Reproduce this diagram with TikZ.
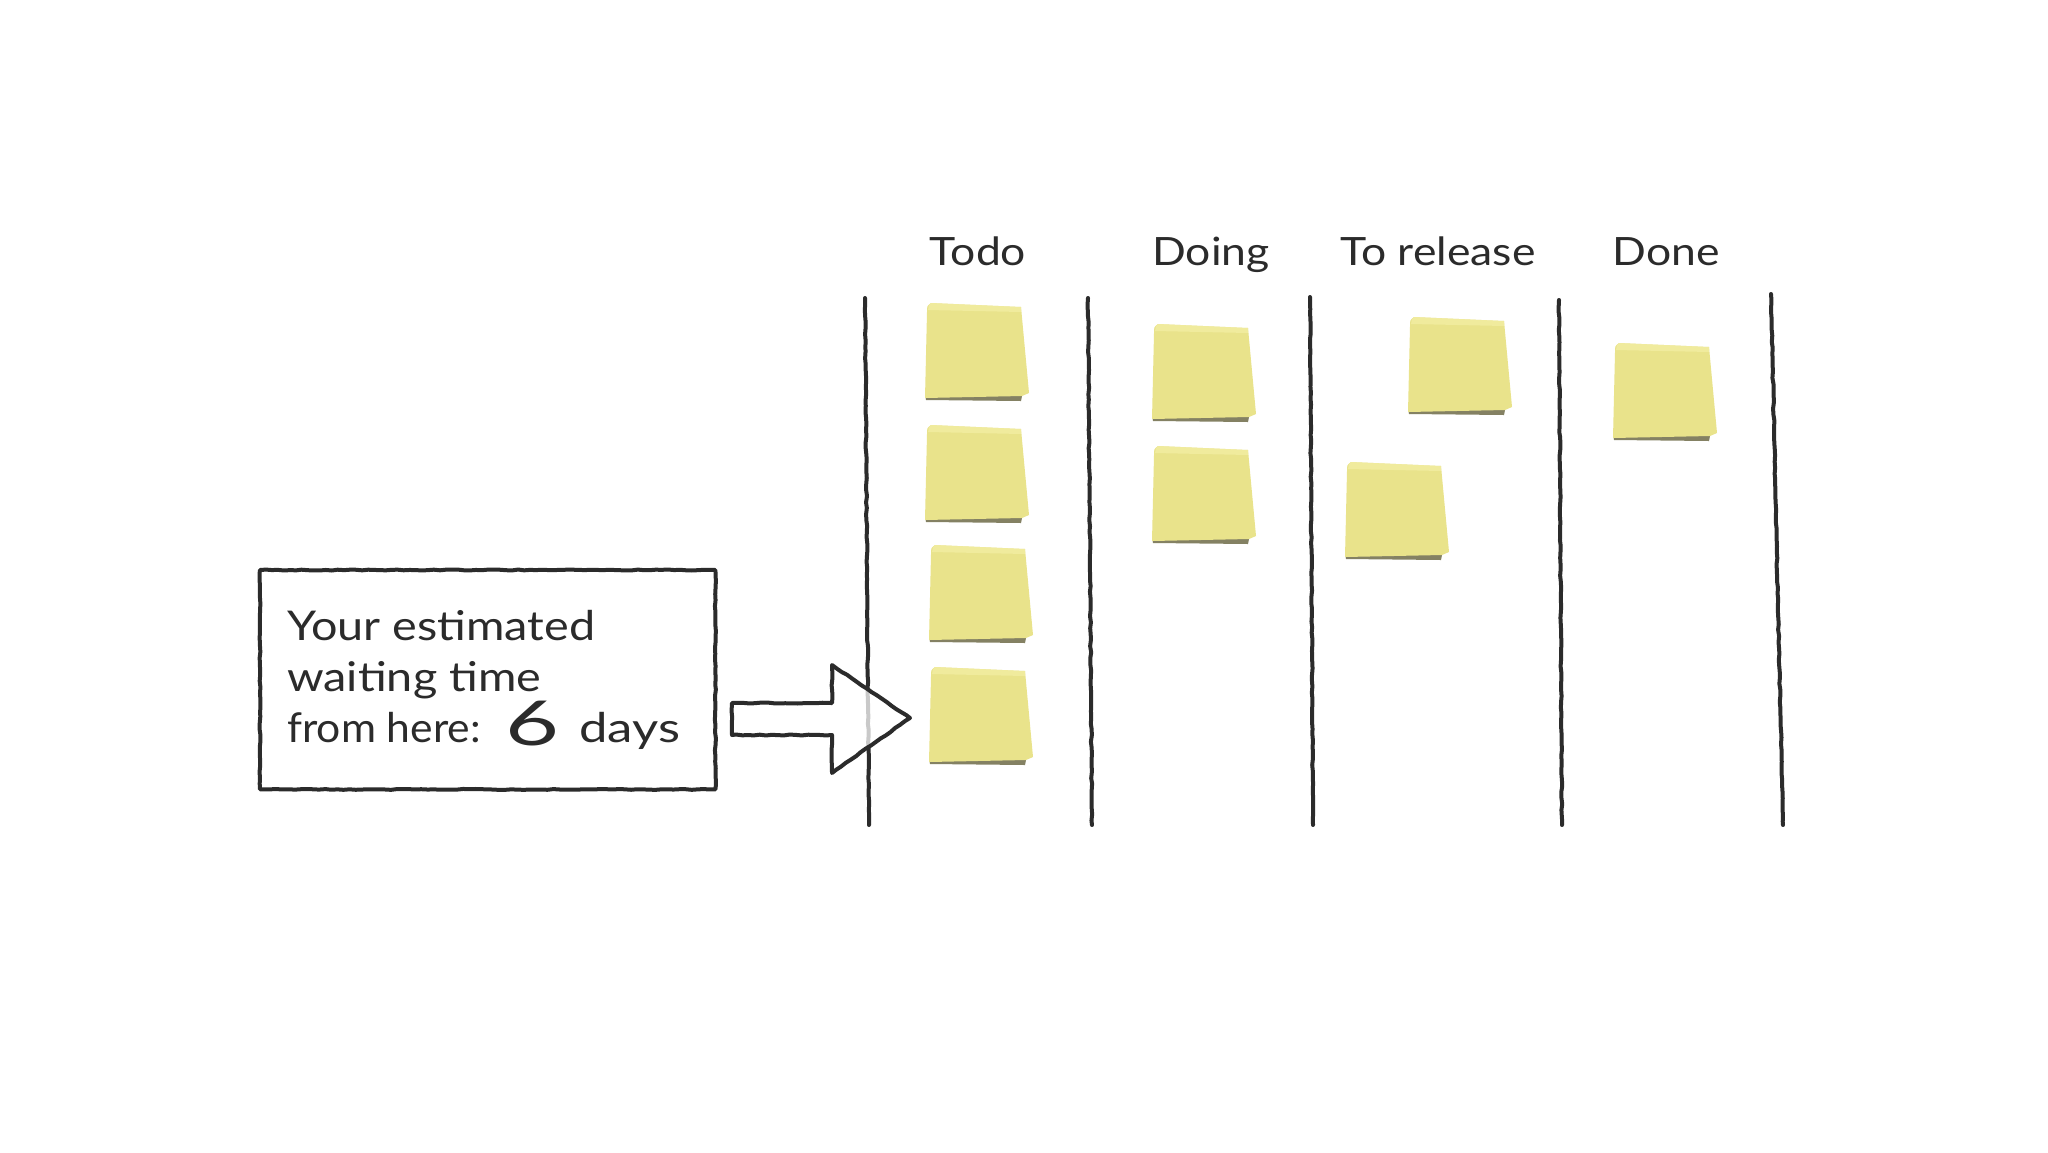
\documentclass[tikz,border=0pt]{standalone}
\usepackage{fontspec}
\setmainfont{Lato}
\newfontfamily\handfont[FakeStretch=1.14]{Lato}
\newfontfamily\handfontb[FakeStretch=1.04]{Lato}
\newfontfamily\handfontc[FakeStretch=1.24]{Lato}
\newfontfamily\digitfont[FakeStretch=1.5]{Lato}
\usetikzlibrary{decorations.pathmorphing,calc}
\definecolor{ink}{HTML}{2B2B2B}
\definecolor{notec}{HTML}{E9E38B}
\definecolor{notelt}{HTML}{F2EDA2}
\definecolor{noteshadow}{HTML}{6F6C48}
\begin{document}
\pgfmathsetseed{7}
\begin{tikzpicture}[x=1pt,y=-1pt,
  sketch/.style={ink, line width=4pt, line cap=round, line join=round,
    decorate, decoration={random steps,segment length=6pt,amplitude=0.5pt}},
  head/.style={font=\handfont\fontsize{39}{44}\selectfont, anchor=base, inner sep=0pt, text=ink},
  body/.style={font=\handfont\fontsize{41}{48}\selectfont, anchor=base west, inner sep=0pt, text=ink},
  sticky/.pic={
    \fill[noteshadow, opacity=.85] (0,91) -- (97,93) -- (96,98) -- (1,97) -- cycle;
    \fill[notec] (6,0) -- (96,4) -- (104,90) -- (97,93) -- (0,95) -- (2,9) .. controls (2,3) .. (6,0) -- cycle;
    \fill[notelt, opacity=.8] (6,0) -- (96,4) -- (96,9) -- (3,7) -- (4,2) -- cycle;
  }]
\useasboundingbox (0,0) rectangle (2048,1152);
\fill[white] (0,0) rectangle (2048,1152);

% column headers
\node[head] (todo) at (978,265) {Todo};
\node[head] (doing) at (1211,265) {Doing};
\node[head] (release) at (1438,265) {To release};
\node[head] (done) at (1666,265) {Done};

% column lines
\coordinate (c1t) at (865,298); \coordinate (c1b) at (869,825);
\coordinate (c2t) at (1088,298); \coordinate (c2b) at (1092,825);
\coordinate (c3t) at (1310,297); \coordinate (c3b) at (1313,825);
\coordinate (c4t) at (1559,300); \coordinate (c4b) at (1562,825);
\coordinate (c5t) at (1771,294); \coordinate (c5b) at (1783,825);
\foreach \i in {1,...,5} { \draw[sketch] (c\i t) -- (c\i b); }

% sticky notes
\pic at (925,303) {sticky};
\pic at (925,425) {sticky};
\pic at (929,545) {sticky};
\pic at (929,667) {sticky};
\pic at (1152,324) {sticky};
\pic at (1152,446) {sticky};
\pic at (1408,317) {sticky};
\pic at (1345,462) {sticky};
\pic at (1613,343) {sticky};

% text box
\node[minimum width=455pt, minimum height=219pt, anchor=north west, inner sep=0pt] (box) at (260,570) {};
\draw[sketch] (box.north west) -- (box.north east) -- (box.south east) -- (box.south west) -- cycle;
\node[body] (t1) at (287,640) {Your estimated};
\node[body] (t2) at (287,691) {waiting time};
\node[body, font=\handfontb\fontsize{41}{48}\selectfont] (t3) at (287,742) {from here:};
\node[anchor=base, inner sep=0pt, text=ink, font=\digitfont\fontsize{62}{62}\selectfont] (six) at (532,745) {6};
\node[body, font=\handfontc\fontsize{41}{48}\selectfont] (t4) at (579,742) {days};

% block arrow
\coordinate (atail) at (732,719);
\coordinate (atip) at (910,718);
\draw[sketch, fill=white, fill opacity=.75]
  ($(atail)+(0,-16)$) -- (832,703) -- (832,665) -- (atip) -- (832,773) -- (832,735) -- ($(atail)+(0,16)$) -- cycle;
\end{tikzpicture}
\end{document}
